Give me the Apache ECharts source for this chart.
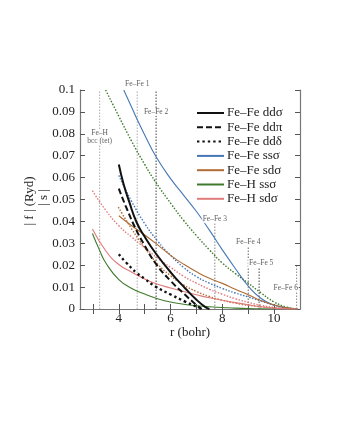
<!DOCTYPE html>
<html><head><meta charset="utf-8">
<script src="https://cdn.jsdelivr.net/npm/echarts@6/dist/echarts.min.js"></script>
<style>html,body{margin:0;padding:0;background:#fff}#c{width:340px;height:440px}</style>
</head><body><div id="c"></div>
<script>
// axis ticks / labels
const xTickValues = [3, 4, 5, 6, 7, 8, 9, 10];
const xLabelValues = [4, 6, 8, 10];

// curves: [r (bohr), value]
const feFeDdSigma = [[4.0,0.066],[4.18,0.0572],[4.4,0.049],[4.69,0.0395],[5.0,0.033],[5.41,0.0257],[6.02,0.0165],[6.56,0.0095],[7.0,0.0042],[7.33,0.001],[7.5,0]];
const feFeDdPi = [[4.0,0.055],[4.3,0.046],[4.69,0.0357],[5.0,0.029],[5.41,0.021],[6.02,0.0126],[6.56,0.0065],[7.0,0.0018],[7.2,0]];
const feFeDdDelta = [[4.0,0.025],[4.3,0.021],[4.69,0.0165],[5.0,0.0138],[5.41,0.0103],[6.02,0.0065],[6.56,0.0034],[7.0,0.0011],[7.26,0]];
const feFeSsSigma = [[4.19,0.1],[4.5,0.092],[4.71,0.0865],[5.0,0.0795],[5.44,0.0695],[6.0,0.0595],[6.5,0.052],[7.0,0.0445],[7.5,0.036],[8.0,0.027],[8.5,0.0185],[9.0,0.0105],[9.5,0.0048],[10.0,0.0018],[10.5,0.0004],[10.9,0]];
const feFeSsSigmaS = [[4.0,0.061],[4.2,0.056],[4.5,0.049],[5.0,0.039],[5.5,0.031],[6.0,0.0245],[6.5,0.019],[7.0,0.0148],[7.5,0.0118],[8.0,0.0094],[8.5,0.0073],[9.0,0.0055],[9.5,0.0036],[10.0,0.0018],[10.5,0.0005],[10.9,0]];
const feFeSdSigma = [[4.0,0.0426],[4.5,0.038],[5.0,0.0338],[5.5,0.0293],[6.0,0.0245],[6.5,0.0205],[7.0,0.017],[7.5,0.014],[8.0,0.0117],[8.5,0.009],[9.0,0.0065],[9.5,0.0038],[10.0,0.0018],[10.5,0.0005],[10.9,0]];
const feFeSdSigmaS = [[3.98,0.0465],[4.5,0.0365],[5.0,0.028],[5.5,0.0205],[6.0,0.0152],[6.5,0.011],[7.0,0.008],[7.5,0.0057],[8.0,0.004],[8.5,0.0027],[9.0,0.0017],[9.5,0.001],[10.0,0.0004],[10.5,0.0001],[10.9,0]];
const feHSsSigma = [[2.98,0.0345],[3.25,0.027],[3.5,0.021],[4.0,0.0134],[4.5,0.0094],[5.0,0.0068],[5.5,0.0047],[6.0,0.0032],[6.5,0.0022],[7.0,0.0015],[7.5,0.001],[8.0,0.0007],[8.5,0.0004],[9.0,0.0002],[9.5,0.0001],[10.0,0]];
const feHSsSigmaS = [[3.49,0.1],[4.0,0.088],[4.5,0.0765],[5.0,0.066],[5.42,0.058],[6.02,0.048],[6.5,0.0405],[7.0,0.0335],[7.5,0.027],[8.0,0.021],[8.5,0.0162],[9.0,0.0118],[9.5,0.0073],[10.0,0.0032],[10.5,0.0008],[10.9,0]];
const feHSdSigma = [[2.98,0.0365],[3.5,0.0265],[4.0,0.0203],[4.5,0.0168],[5.0,0.0137],[5.5,0.0113],[6.0,0.0096],[6.5,0.008],[7.0,0.0065],[7.5,0.0051],[8.0,0.004],[8.5,0.0029],[9.0,0.0019],[9.5,0.001],[10.0,0.0004],[10.5,0.0001],[10.9,0]];
const feHSdSigmaS = [[2.98,0.054],[3.5,0.045],[4.0,0.038],[4.5,0.0328],[5.0,0.028],[5.5,0.0232],[6.0,0.019],[6.5,0.015],[7.0,0.0118],[7.5,0.009],[8.0,0.0067],[8.5,0.0047],[9.0,0.003],[9.5,0.0017],[10.0,0.0007],[10.5,0.0001],[10.9,0]];

// neighbour-distance markers
const markerNames = ['Fe–H\nbcc (tet)','Fe–Fe 1','Fe–Fe 2','Fe–Fe 3','Fe–Fe 4','Fe–Fe 5','Fe–Fe 6'];
const markerR = [3.26, 4.71, 5.44, 7.71, 9.0, 9.42, 10.87];
const markerTop = [0.1, 0.1, 0.1, 0.039, 0.0283, 0.0187, 0.0196];
const markerLabelAt = [[3.26,0.0785],[4.71,0.1025],[5.44,0.09],[7.71,0.041],[9.0,0.0307],[9.5,0.021],[10.45,0.0096]];
const markerColors = ['#aaa','#aaa','#444','#888','#666','#444','#888'];

const FONT = 'Liberation Serif';
const BLUE = '#4677b4', BROWN = '#b06c34', GREEN = '#3f7a2c', PINK = '#e07b7b';

function curve(name, data, color, width, type, z) {
  return { name, type: 'line', data, smooth: true, symbol: 'none', showSymbol: false,
    lineStyle: { color, width, type }, itemStyle: { color }, z: z || 3, silent: true, animation: false };
}

const series = [];
markerR.forEach((r, i) => {
  series.push({ type: 'line', data: [[r, 0], [r, markerTop[i]]], symbol: 'none', silent: true, animation: false, z: 1,
    lineStyle: { color: markerColors[i], width: 1, type: [1.5, 1.5] } });
});
series.push(
  curve('Fe–Fe ssσ (s)', feFeSsSigmaS, BLUE, 1.4, [1.5, 1.6]),
  curve('Fe–Fe sdσ (s)', feFeSdSigmaS, BROWN, 1.4, [1.5, 1.6]),
  curve('Fe–H ssσ (s)', feHSsSigmaS, GREEN, 1.4, [1.5, 1.6]),
  curve('Fe–H sdσ (s)', feHSdSigmaS, PINK, 1.4, [1.5, 1.6]),
  curve('Fe–Fe ssσ', feFeSsSigma, BLUE, 1.1, 'solid'),
  curve('Fe–Fe sdσ', feFeSdSigma, BROWN, 1.1, 'solid'),
  curve('Fe–H ssσ', feHSsSigma, GREEN, 1.1, 'solid'),
  curve('Fe–H sdσ', feHSdSigma, PINK, 1.1, 'solid'),
  curve('Fe–Fe ddσ', feFeDdSigma, '#111', 2, 'solid', 4),
  curve('Fe–Fe ddπ', feFeDdPi, '#111', 2, [6, 3], 4),
  curve('Fe–Fe ddδ', feFeDdDelta, '#111', 2.4, [2.4, 3], 4)
);
series.push({
  type: 'scatter', symbolSize: 0, silent: true, animation: false, z: 10, clip: false,
  data: markerLabelAt.map((p, i) => ({ value: p, name: markerNames[i] })),
  label: { show: true, position: 'inside', formatter: p => p.name, fontFamily: FONT, fontSize: 7.5,
    color: '#333', backgroundColor: '#fff', padding: [0, 1], lineHeight: 8, align: 'center' }
});

const axisCommon = {
  axisLine: { show: true, lineStyle: { color: '#777', width: 1.2 } },
  splitLine: { show: false }
};

const chart = echarts.init(document.getElementById('c'), null, { renderer: 'canvas' });
chart.setOption({
  animation: false,
  backgroundColor: '#fff',
  grid: { left: 80, right: 40, top: 90, bottom: 131 },
  legend: {
    data: ['Fe–Fe ddσ','Fe–Fe ddπ','Fe–Fe ddδ','Fe–Fe ssσ','Fe–Fe sdσ','Fe–H ssσ','Fe–H sdσ'],
    orient: 'vertical', left: 196, top: 106, padding: 0, itemWidth: 27, itemHeight: 10, itemGap: 0.3,
    itemStyle: { opacity: 0 },
    textStyle: { fontFamily: FONT, fontSize: 13, color: '#222', lineHeight: 14, padding: [0, 0, 0, -2] }
  },
  xAxis: [
    Object.assign({ type: 'value', min: 2.5, max: 11, position: 'bottom',
      name: 'r (bohr)', nameLocation: 'middle', nameGap: 16,
      nameTextStyle: { fontFamily: FONT, fontSize: 13, color: '#222' },
      axisTick: { show: true, inside: true, length: 5, customValues: xTickValues, lineStyle: { color: '#555' } },
      axisLabel: { customValues: xLabelValues, fontFamily: FONT, fontSize: 13, color: '#222', margin: 3 } }, axisCommon),
    Object.assign({ type: 'value', min: 2.5, max: 11, position: 'top',
      axisTick: { show: true, inside: true, length: 5, customValues: xTickValues, lineStyle: { color: '#555' } },
      axisLabel: { show: false } }, axisCommon)
  ],
  yAxis: [
    Object.assign({ type: 'value', min: 0, max: 0.1, interval: 0.01, position: 'left',
      axisTick: { show: true, inside: true, length: 5, lineStyle: { color: '#555' } },
      axisLabel: { fontFamily: FONT, fontSize: 13, color: '#222', margin: 5,
        formatter: v => String(parseFloat(v.toFixed(2))) } }, axisCommon),
    Object.assign({ type: 'value', min: 0, max: 0.1, interval: 0.01, position: 'right',
      axisTick: { show: true, inside: true, length: 5, lineStyle: { color: '#555' } },
      axisLabel: { show: false } }, axisCommon)
  ],
  graphic: [
    { type: 'text', x: 30, y: 201, rotation: Math.PI / 2,
      style: { text: '| f | (Ryd)', font: '13px "Liberation Serif"', fill: '#222', textAlign: 'center', textVerticalAlign: 'middle' } },
    { type: 'text', x: 43.5, y: 197.5, rotation: Math.PI / 2,
      style: { text: '| s |', font: '13px "Liberation Serif"', fill: '#222', textAlign: 'center', textVerticalAlign: 'middle' } }
  ],
  series
});
</script></body></html>
